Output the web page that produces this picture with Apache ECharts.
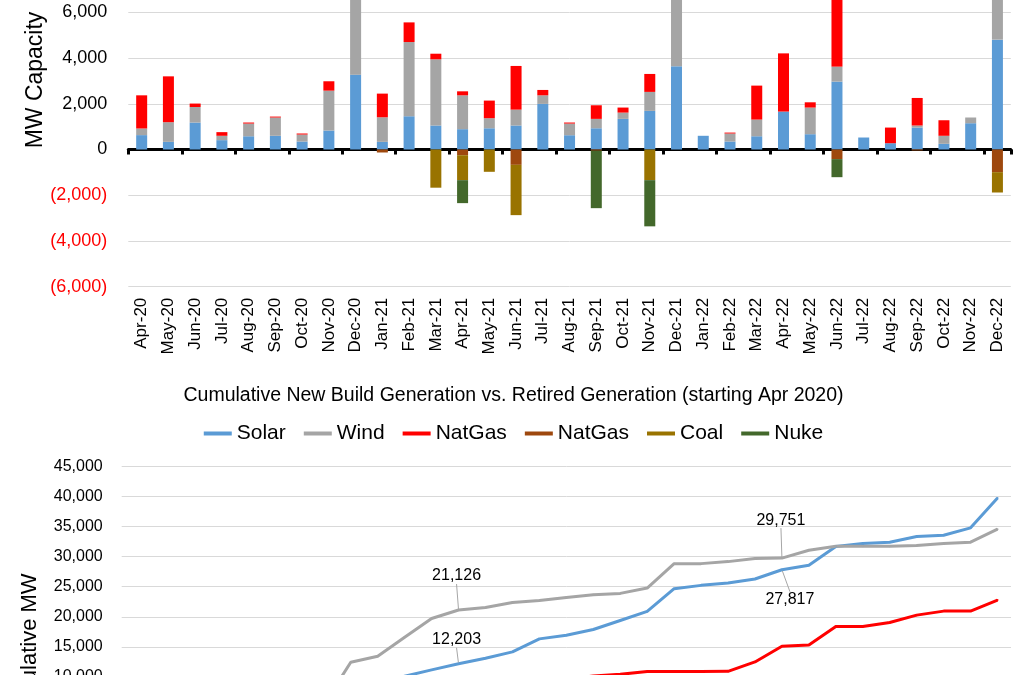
<!DOCTYPE html>
<html><head><meta charset="utf-8">
<script src="https://cdn.jsdelivr.net/npm/echarts@6/dist/echarts.min.js"></script>
<style>html,body{margin:0;padding:0;background:#fff}#c{width:1027px;height:675px}</style>
</head><body><div id="c"></div>
<script>
const months = ['Apr-20','May-20','Jun-20','Jul-20','Aug-20','Sep-20','Oct-20','Nov-20','Dec-20','Jan-21','Feb-21','Mar-21','Apr-21','May-21','Jun-21','Jul-21','Aug-21','Sep-21','Oct-21','Nov-21','Dec-21','Jan-22','Feb-22','Mar-22','Apr-22','May-22','Jun-22','Jul-22','Aug-22','Sep-22','Oct-22','Nov-22','Dec-22'];

// Monthly MW capacity (top chart)
const solar = [630,335,1180,410,580,600,350,830,3275,335,1455,1050,890,930,1050,1995,625,930,1340,1690,3640,600,350,580,1660,670,2970,525,275,960,250,1150,4805];
const wind = [290,860,680,190,555,800,305,1745,7020,1075,3245,2895,1480,440,695,375,510,410,275,830,3980,0,350,730,0,1165,655,0,0,90,350,250,2200];
const natGas = [1450,2005,150,160,45,40,45,410,0,1035,860,245,175,770,1910,235,45,595,220,785,0,0,40,1485,2545,230,3000,0,685,1205,680,0,1830];
const natGasRetired = [0,0,0,0,0,0,0,0,0,-130,0,0,-250,0,-670,0,0,-50,0,0,0,0,0,0,0,0,-420,0,0,-40,0,0,-990];
const coal = [0,0,0,0,0,0,0,0,0,0,0,-1670,-1090,-975,-2200,0,0,0,0,-1340,0,0,0,0,0,0,0,0,0,0,0,0,-890];
const nuke = [0,0,0,0,0,0,0,0,0,0,0,0,-1005,0,0,0,0,-2515,0,-2020,0,0,0,0,0,0,-790,0,0,0,0,0,0];

// Cumulative MW (bottom chart)
const cumSolar = [630,970,2160,2580,3170,3780,4140,4990,8300,8650,10130,11180,12203,13111,14167,16333,16944,17889,19389,20889,24667,25222,25611,26278,27817,28555,31667,32166,32389,33333,33555,34778,39722];
const cumWind = [290,1150,1830,2020,2575,3375,3680,5425,12444,13444,16611,19722,21126,21555,22389,22722,23222,23667,23889,24778,28833,28833,29167,29700,29751,31055,31722,31722,31722,31833,32166,32389,34555];
const cumNatGas = [1450,3455,3605,3765,3810,3850,3895,4305,4305,5340,6200,6445,6620,7390,9300,9535,9580,10175,10450,10900,10900,10900,10940,12500,15111,15333,18389,18389,19055,20278,20944,20944,22778];
const cumNatGasRetired = [0,0,0,0,0,0,0,0,0,-130,-130,-130,-380,-380,-1050,-1050,-1050,-1100,-1100,-1100,-1100,-1100,-1100,-1100,-1100,-1100,-1520,-1520,-1520,-1560,-1560,-1560,-2550];
const cumCoal = [0,0,0,0,0,0,0,0,0,0,0,-1670,-2760,-3735,-5935,-5935,-5935,-5935,-5935,-7275,-7275,-7275,-7275,-7275,-7275,-7275,-7275,-7275,-7275,-7275,-7275,-7275,-8165];
const cumNuke = [0,0,0,0,0,0,0,0,0,0,0,0,-1005,-1005,-1005,-1005,-1005,-3520,-3520,-5540,-5540,-5540,-5540,-5540,-5540,-5540,-6330,-6330,-6330,-6330,-6330,-6330,-6330];

const labeledPoints = ['Apr-21','Apr-22'];

const C = {solar:'#5B9BD5', wind:'#A5A5A5', gas:'#FF0000', gasRet:'#9E480E', coal:'#997300', nuke:'#43682B'};
const FONT = "'Liberation Sans', Arial, sans-serif";
const fmt = v => Math.abs(v).toLocaleString('en-US');

function withLabels(arr) {
  return arr.map((v, i) => labeledPoints.includes(months[i]) ? {value: v, label: {show: true}, labelLine: {show: true}} : v);
}

const chart = echarts.init(document.getElementById('c'), null, {renderer: 'canvas'});
const barBase = {type: 'bar', stack: 'mw', barWidth: 11, xAxisIndex: 0, yAxisIndex: 0};
const lineBase = {type: 'line', xAxisIndex: 2, yAxisIndex: 1, symbol: 'circle', symbolSize: 2, lineStyle: {width: 3}, z: 3};

chart.setOption({
  animation: false,
  textStyle: {fontFamily: FONT, color: '#000'},
  title: {
    text: 'Cumulative New Build Generation vs. Retired Generation (starting Apr 2020)',
    left: 'center', top: 386, padding: 0,
    textStyle: {fontSize: 19.5, fontWeight: 'normal', color: '#000', fontFamily: FONT}
  },
  legend: {
    top: 423, left: 'center', padding: 0, itemGap: 18, itemWidth: 28, itemHeight: 4, icon: 'rect',
    selectedMode: false,
    data: ['Solar','Wind','NatGas','NatGas Retired','Coal','Nuke'],
    formatter: n => n === 'NatGas Retired' ? 'NatGas' : n,
    textStyle: {fontSize: 21, color: '#000', fontFamily: FONT}
  },
  graphic: [
    {type: 'text', x: 36, y: 80, rotation: Math.PI / 2,
     style: {text: 'MW Capacity', font: "23px 'Liberation Sans', Arial, sans-serif", fill: '#000', align: 'center', verticalAlign: 'middle'}},
    {type: 'text', x: 30, y: 651, rotation: Math.PI / 2,
     style: {text: 'Cumulative MW', font: "22px 'Liberation Sans', Arial, sans-serif", fill: '#000', align: 'center', verticalAlign: 'middle'}}
  ],
  grid: [
    {left: 128.3, right: 16.2, top: -33.4, height: 320.1, containLabel: false, outerBoundsMode: 'none'},
    {left: 121.7, right: 16, top: 466.3, height: 331.1, containLabel: false, outerBoundsMode: 'none'}
  ],
  xAxis: [
    {type: 'category', gridIndex: 0, data: months, position: 'bottom',
     axisLine: {show: false, onZero: false}, axisTick: {show: false},
     axisLabel: {rotate: 90, interval: 0, margin: 11, fontSize: 17, color: '#000', fontFamily: FONT}},
    {type: 'category', gridIndex: 0, data: months, position: 'bottom',
     axisLine: {show: true, onZero: true, lineStyle: {color: '#000', width: 3}},
     axisTick: {show: true, alignWithLabel: false, length: 5, lineStyle: {color: '#000', width: 3}},
     axisLabel: {show: false}},
    {type: 'category', gridIndex: 1, data: months, position: 'bottom',
     axisLine: {show: true, lineStyle: {color: '#D9D9D9'}}, axisTick: {show: false},
     axisLabel: {rotate: 90, interval: 0, fontSize: 16, color: '#000'}}
  ],
  yAxis: [
    {type: 'value', gridIndex: 0, min: -6000, max: 8000, interval: 2000,
     axisLine: {show: false}, axisTick: {show: false},
     splitLine: {lineStyle: {color: '#D9D9D9', width: 1}},
     axisLabel: {margin: 21, fontSize: 18, color: '#000', fontFamily: FONT,
       formatter: v => v < 0 ? '{neg|(' + fmt(v) + ')}' : fmt(v),
       rich: {neg: {color: '#FF0000', fontSize: 18, fontFamily: FONT}}}},
    {type: 'value', gridIndex: 1, min: -10000, max: 45000, interval: 5000,
     axisLine: {show: false}, axisTick: {show: false},
     splitLine: {lineStyle: {color: '#D9D9D9', width: 1}},
     axisLabel: {margin: 19, fontSize: 16, color: '#000', fontFamily: FONT,
       formatter: v => v < 0 ? '(' + fmt(v) + ')' : fmt(v)}}
  ],
  series: [
    Object.assign({}, barBase, {name: 'Solar', data: solar, itemStyle: {color: C.solar}}),
    Object.assign({}, barBase, {name: 'Wind', data: wind, itemStyle: {color: C.wind}}),
    Object.assign({}, barBase, {name: 'NatGas', data: natGas, itemStyle: {color: C.gas}}),
    Object.assign({}, barBase, {name: 'NatGas Retired', data: natGasRetired, itemStyle: {color: C.gasRet}}),
    Object.assign({}, barBase, {name: 'Coal', data: coal, itemStyle: {color: C.coal}}),
    Object.assign({}, barBase, {name: 'Nuke', data: nuke, itemStyle: {color: C.nuke}}),

    Object.assign({}, lineBase, {name: 'Solar', data: withLabels(cumSolar), itemStyle: {color: C.solar}, lineStyle: {width: 3, color: C.solar},
      label: {show: false, position: 'top', fontSize: 16, color: '#000', formatter: p => fmt(p.value)},
      labelLine: {show: true, lineStyle: {color: '#A6A6A6', width: 1}},
      labelLayout: p => p.dataIndex === 12 ? {dy: -10, dx: -2} : {dy: 44, dx: 8}}),
    Object.assign({}, lineBase, {name: 'Wind', data: withLabels(cumWind), itemStyle: {color: C.wind}, lineStyle: {width: 3, color: C.wind},
      label: {show: false, position: 'top', fontSize: 16, color: '#000', formatter: p => fmt(p.value)},
      labelLine: {show: true, lineStyle: {color: '#A6A6A6', width: 1}},
      labelLayout: p => p.dataIndex === 12 ? {dy: -20, dx: -2} : {dy: -24, dx: -1}}),
    Object.assign({}, lineBase, {name: 'NatGas', data: cumNatGas, itemStyle: {color: C.gas}, lineStyle: {width: 3, color: C.gas}}),
    Object.assign({}, lineBase, {name: 'NatGas Retired', data: cumNatGasRetired, itemStyle: {color: C.gasRet}, lineStyle: {width: 3, color: C.gasRet}}),
    Object.assign({}, lineBase, {name: 'Coal', data: cumCoal, itemStyle: {color: C.coal}, lineStyle: {width: 3, color: C.coal}}),
    Object.assign({}, lineBase, {name: 'Nuke', data: cumNuke, itemStyle: {color: C.nuke}, lineStyle: {width: 3, color: C.nuke}})
  ]
});
</script>
</body></html>
